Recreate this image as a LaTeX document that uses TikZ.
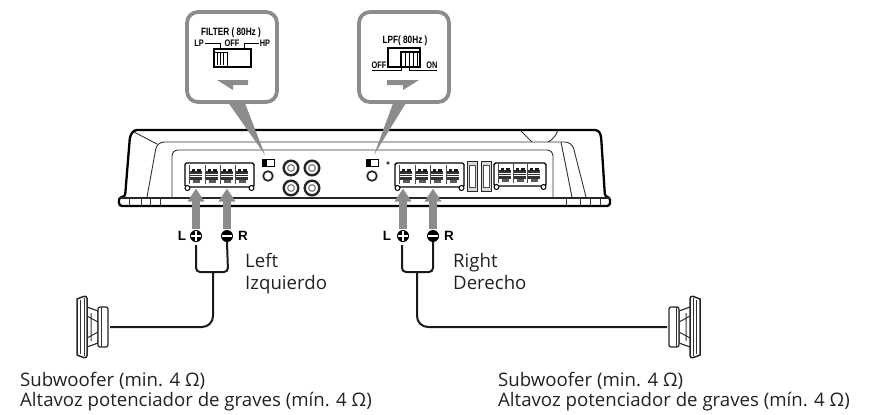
\documentclass[tikz,border=0pt]{standalone}
\usepackage{fontspec}
\setmainfont{Open Sans}
\newfontfamily\lblf[FakeStretch=0.78]{Liberation Sans}
\newfontfamily\lrf{Liberation Sans}
\usetikzlibrary{arrows.meta,calc}
\definecolor{cgray}{HTML}{8C8C8C}
\definecolor{ink}{HTML}{1A1A1A}
\definecolor{txt}{HTML}{222222}
\tikzset{
  body/.style={line width=2.3bp,draw=black,line join=round},
  thin line/.style={line width=.9bp,draw=black!80},
  callout/.style={draw=cgray,line width=3.8bp,fill=white,rounded corners=11bp},
  tailshape/.style={fill=cgray,draw=none},
  fat/.style={draw=cgray,line width=7.5bp,-{Triangle[width=16bp,length=13bp]}},
  wire/.style={draw=ink,line width=2bp,rounded corners=4bp},
  longwire/.style={draw=ink,line width=2bp,rounded corners=11bp},
  sw label/.style={font=\lblf\bfseries\fontsize{9.5}{10}\selectfont,inner sep=0pt,text=black},
  lr label/.style={font=\lrf\bfseries\fontsize{13.5}{14}\selectfont,inner sep=0pt,text=black},
  caption/.style={font=\fontsize{18.7}{22}\selectfont,inner sep=0pt,anchor=base west,text=txt},
  pol/.style={circle,fill=black,minimum size=12bp,inner sep=0pt},
  signbar/.style={draw=white,line width=2bp},
  sw line/.style={draw=black,line width=1bp},
  term/.pic={
    \draw[line width=.6bp,draw=black!70] (-6.5,-9)--(-6.5,10);
    \fill[black!80] (-6,-3.5) rectangle (6,6);
    \fill[black!90] (-4.5,-5.5) rectangle (-.6,-2);
    \fill[black!90] (.6,-5.5) rectangle (4.5,-2);
    \draw[white,line width=.4bp] (-6,0)--(6,0) (-6,2.5)--(6,2.5);
    \fill[black!65] (-3.5,6) rectangle (3.5,9);
  },
  spk/.pic={
    \draw[line width=1.1bp,draw=black!85,fill=white] (-13,-20)--(-2,-16)--(-2,16)--(-13,20);
    \draw[line width=1bp,draw=black!80] (-13,-11)--(-2,-5) (-13,11)--(-2,5) (-9,-14)--(-9,14);
    \draw[line width=1.2bp,draw=black!85,fill=white,rounded corners=2bp] (-2,-20) rectangle (8,20);
    \draw[line width=1bp,draw=black!80] (1,-20)--(1,20);
    \draw[line width=1.5bp,draw=black!85,fill=white,rounded corners=3bp]
      (-13,-31.5) .. controls (-18,-30) and (-23,-28) .. (-23,-25) -- (-23,25) .. controls (-23,28) and (-18,30) .. (-13,31.5) -- cycle;
    \draw[line width=.9bp,draw=black!80] (-19.5,-27)--(-19.5,27) (-16,-29)--(-16,29);
  }
}
\begin{document}
\begin{tikzpicture}[x=1bp,y=-1bp]
\useasboundingbox (0,0) rectangle (879,414);
% amplifier
\draw[body,rounded corners=3bp] (119,206)--(119,197)--(125,197)--(130,136)--(134,130)--(598,130)--(601,135)--(605,197)--(610,197)--(610,206)--cycle;
\draw[thin line,rounded corners=7bp] (147,197)--(157,142)--(572,142)--(586,197);
\draw[thin line,rounded corners=6bp] (172,197)--(172,150)--(553,150)--(553,197);
\draw[thin line] (134,132)--(157,144) (520,130)--(532,142) (558,130) .. controls (556,136) and (552,140) .. (548,142);
\draw[thin line] (561,142)--(572,197);
\foreach \x in {129,141,150,160} \draw[thin line] (\x,197)--(\x,206);
\foreach \x in {566,580,590,600} \draw[thin line] (\x,197)--(\x,206);
\draw[line width=1.2bp,draw=black!85] (119,198)--(610,198);
% terminal blocks
\foreach \bx/\tl in {185/{196,212,227,242},395/{406,422,437,453}}{
  \draw[line width=1.4bp,fill=white,rounded corners=1.5bp] (\bx,163) rectangle ++(69,24);
  \draw[line width=1bp,fill=white] (\bx+2.5,188) circle (2.5bp) (\bx+66.5,188) circle (2.5bp);
  \foreach \t in \tl \pic at (\t,174) {term};
}
\draw[line width=1.4bp,fill=white,rounded corners=1.5bp] (494,163) rectangle (546,186);
\draw[line width=1bp,fill=white] (496.5,187) circle (2.5bp) (543.5,187) circle (2.5bp);
\foreach \t in {505,520,534} \pic at (\t,173) {term};
% slots
\foreach \x in {467,481}{
  \draw[line width=1bp,fill=black!15,draw=black!85] (\x,161) rectangle ++(10.5,30);
  \draw[line width=.7bp,fill=white,draw=black!70] (\x+2.5,165) rectangle ++(5.5,22);
}
% switches and knobs
\draw[line width=.9bp] (262,159) rectangle (274,166);
\fill (262,159) rectangle (267,166);
\draw[line width=.9bp] (366,159) rectangle (378,166);
\fill (366,159) rectangle (371,166);
\draw[line width=1.7bp,draw=black!85] (268,176) circle (4.8bp) (372,176) circle (4.8bp);
\fill[black!70] (388,163) circle (1.8bp);
\foreach \x in {291,312} \foreach \y in {168,188}{
  \draw[line width=2.4bp,draw=black!85] (\x,\y) circle (7.3bp);
  \draw[line width=1.2bp,draw=black!50] (\x,\y) circle (3.4bp);
}
% callouts
\fill[tailshape] (225,98)--(243,98)--(265,155)--cycle;
\fill[tailshape] (395,98)--(409,98)--(374,155)--cycle;
\node[callout,minimum width=90bp,minimum height=90bp,inner sep=0pt] (boxl) at (232,57) {};
\node[callout,minimum width=90bp,minimum height=90bp,inner sep=0pt] (boxr) at (404,57) {};
% left callout contents
\node[sw label,font=\lblf\bfseries\fontsize{10.6}{11}\selectfont] (ft) at (231,33) {FILTER ( 80Hz )};
\node[sw label] (lp) at (199,43.5) {LP};
\node[sw label] (off1) at (232,43.5) {OFF};
\node[sw label] (hp) at (265,43.5) {HP};
\draw[sw line] (lp.east)++(1,0) -- (220,43.5)--(220,49);
\draw[sw line] (hp.west)++(-1,0) -- (244,43.5)--(244,49);
\draw[line width=1.1bp] (214,49) rectangle (251,67);
\draw[line width=.9bp,fill=white] (214,52) rectangle (227,66);
\foreach \x in {217,220,223} \draw[line width=.8bp] (\x,53)--(\x,65);
\draw[line width=1.6bp] (214,66.5)--(251,66.5);
\fill[cgray] (217,80)--(248,80)--(248,85)--(233,85)--(233,90)--cycle;
% right callout contents
\node[sw label,font=\lblf\bfseries\fontsize{10.6}{11}\selectfont] (lt) at (405,41) {LPF( 80Hz )};
\draw[line width=1.1bp] (388,48) rectangle (420,67);
\draw[line width=1.1bp,fill=white] (401,52) rectangle (420,67);
\foreach \x in {405,409,413,417} \draw[line width=.8bp] (\x,53)--(\x,66);
\node[sw label] (off2) at (379,65.5) {OFF};
\node[sw label] (on) at (432,65.5) {ON};
\draw[sw line] (372,70.5)--(401,70.5)--(401,67);
\draw[sw line] (409,67)--(409,70.5)--(437,70.5);
\fill[cgray] (419,80)--(387,80)--(387,85)--(403,85)--(403,90)--cycle;
% polarity marks
\foreach \n/\x in {pl/196,ml/227,pr/403,mr/433} \node[pol] (\n) at (\x,236) {};
\draw[signbar] ($(pl.west)+(1.5,0)$)--($(pl.east)+(-1.5,0)$) ($(pl.north)+(0,1.5)$)--($(pl.south)+(0,-1.5)$);
\draw[signbar] ($(pr.west)+(1.5,0)$)--($(pr.east)+(-1.5,0)$) ($(pr.north)+(0,1.5)$)--($(pr.south)+(0,-1.5)$);
\draw[signbar] ($(ml.west)+(1.5,0)$)--($(ml.east)+(-1.5,0)$);
\draw[signbar] ($(mr.west)+(1.5,0)$)--($(mr.east)+(-1.5,0)$);
\node[lr label] (ll) at (182,236) {L};
\node[lr label] (rl) at (243,236) {R};
\node[lr label] (lr) at (387,236) {L};
\node[lr label] (rr) at (449,236) {R};
% gray arrows
\coordinate (t1) at (196,188.5); \coordinate (t2) at (227,188.5);
\coordinate (t3) at (403,188.5); \coordinate (t4) at (433,188.5);
\draw[fat] (pl.north)++(0,-1) -- (t1);
\draw[fat] (ml.north)++(0,-1) -- (t2);
\draw[fat] (pr.north)++(0,-1) -- (t3);
\draw[fat] (mr.north)++(0,-1) -- (t4);
% speakers
\pic (sl) at (100,327) {spk};
\pic[xscale=-1] (sr) at (677,327) {spk};
\coordinate (spkl) at (110,327);
\coordinate (spkr) at (667,327);
\coordinate (jl) at (213,272);
\coordinate (jr) at (417,272);
% wires
\draw[wire] (pl.south)++(0,3) -- (196,272)--(228,272)--(ml.south);
\draw[longwire] (jl)--(213,327)--(spkl);
\draw[wire] (pr.south)++(-1,3) -- (402,272)--(433,272)--(mr.south);
\draw[longwire] (jr)--(417,327)--(spkr);
% captions
\node[caption] (c1) at (245,267) {Left};
\node[caption] (c2) at (245,289) {Izquierdo};
\node[caption] (c3) at (453,267) {Right};
\node[caption] (c4) at (453,289) {Derecho};
\node[caption] (c5) at (20,386) {Subwoofer (min. 4 Ω)};
\node[caption] (c6) at (20,406) {Altavoz potenciador de graves (mín. 4 Ω)};
\node[caption] (c7) at (498,386) {Subwoofer (min. 4 Ω)};
\node[caption] (c8) at (498,406) {Altavoz potenciador de graves (mín. 4 Ω)};
\end{tikzpicture}
\end{document}
